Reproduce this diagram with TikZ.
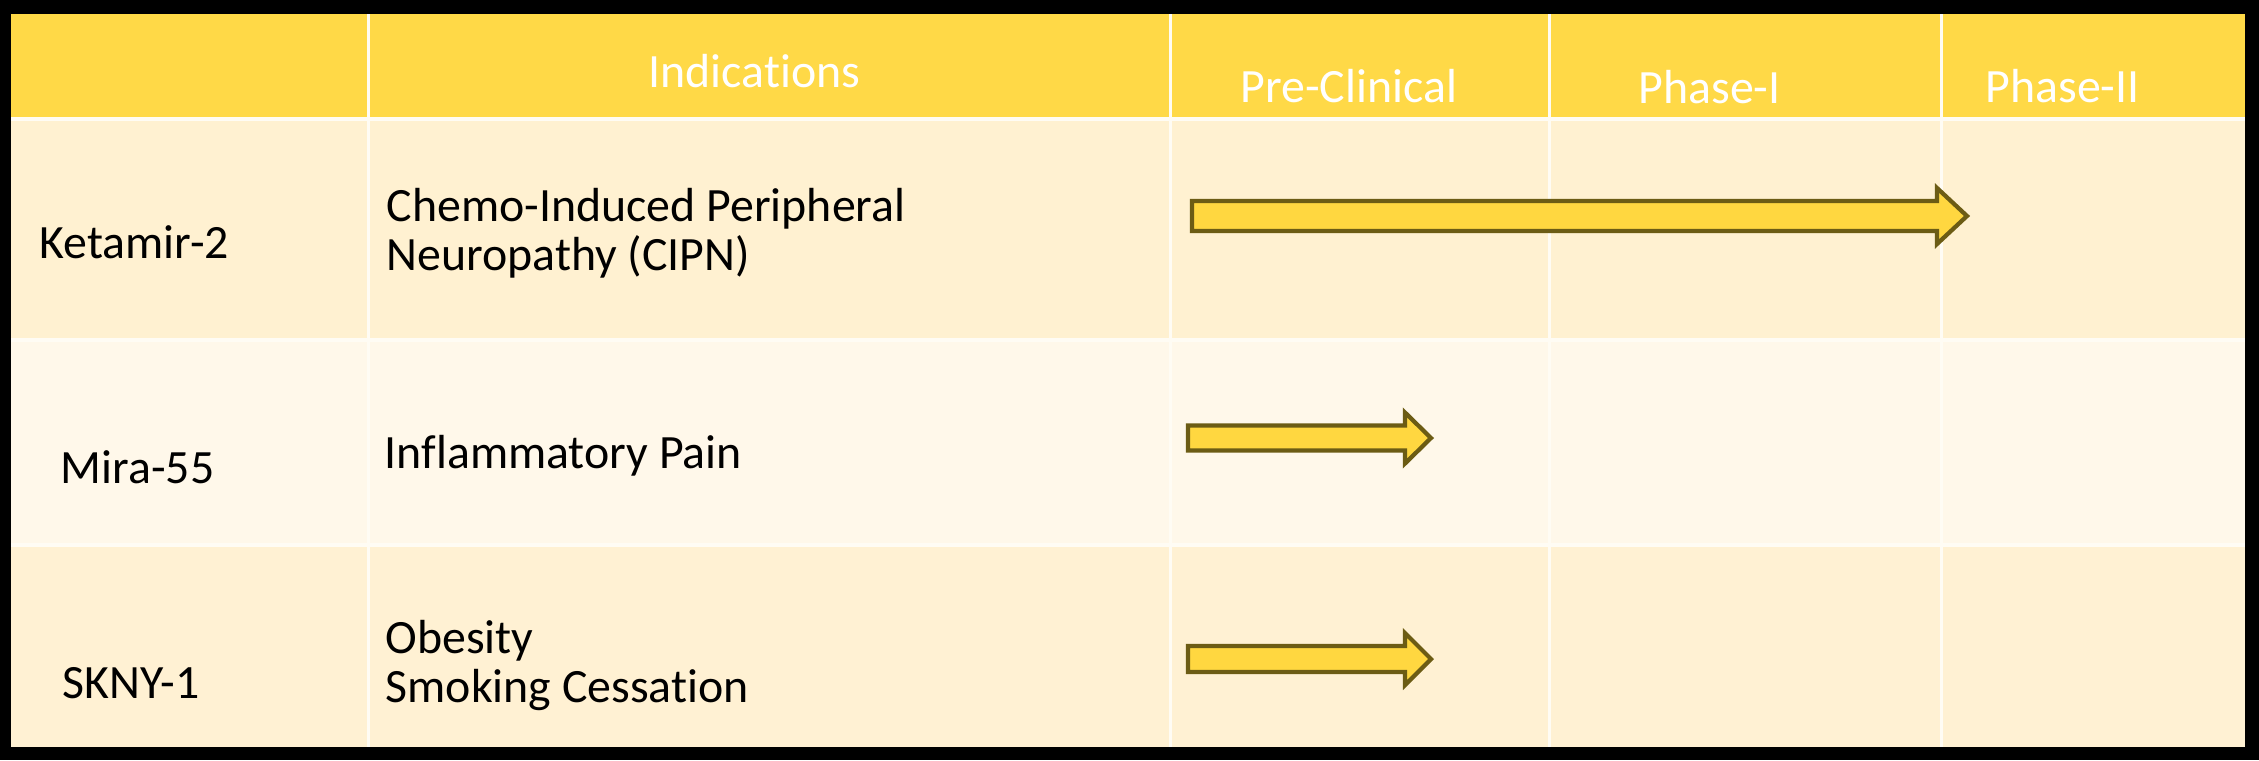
\documentclass[tikz,border=0pt]{standalone}
\usepackage{fontspec}
\setmainfont{Carlito}[Ligatures=NoCommon]
\definecolor{hdrfill}{RGB}{255,217,71}
\definecolor{rowa}{RGB}{255,241,209}
\definecolor{rowb}{RGB}{255,248,234}
\definecolor{rowc}{RGB}{255,241,211}
\definecolor{gridline}{RGB}{255,252,244}
\definecolor{arrowfill}{RGB}{255,215,64}
\definecolor{arrowline}{RGB}{108,92,20}
\begin{document}
\begin{tikzpicture}[x=0.01cm,y=-0.01cm,
  txt/.style={anchor=base west, inner sep=0pt, font=\fontsize{13.6}{13.95}\selectfont},
  hdrtxt/.style={txt, text=white},
  bodytxt/.style={txt, text=black},
  phasearrow/.style={fill=arrowfill, draw=arrowline, line width=1.2pt, line join=miter}]
% background and bounding box
\fill[black] (0,0) rectangle (2259,760);
\useasboundingbox (0,0) rectangle (2259,760);
\fill[gridline] (11,14) rectangle (2245,747);
% table cells
\foreach \xa/\xb in {11/367,370/1169,1172/1548,1551/1940,1943/2245}{
  \fill[hdrfill] (\xa,14) rectangle (\xb,117);
  \fill[rowa] (\xa,121) rectangle (\xb,338);
  \fill[rowb] (\xa,342) rectangle (\xb,543);
  \fill[rowc] (\xa,547) rectangle (\xb,747);
}
% header texts
\node[hdrtxt] (hInd) at (648,87) {Indications};
\node[hdrtxt] (hPre) at (1240,102) {Pre-Clinical};
\node[hdrtxt] (hP1) at (1638,103) {Phase-I};
\node[hdrtxt] (hP2) at (1985,102) {Phase-II};
% body texts
\node[bodytxt] (ket) at (39,258) {Ketamir-2};
\node[bodytxt] (cipn) at (386,221) {\begin{tabular}[t]{@{}l@{}}Chemo-Induced Peripheral\\Neuropathy (CIPN)\end{tabular}};
\node[bodytxt] (mira) at (60,483) {Mira-55};
\node[bodytxt] (infl) at (384,468) {Inflammatory Pain};
\node[bodytxt] (skny) at (62,698) {SKNY-1};
\node[bodytxt] (obes) at (385,653) {\begin{tabular}[t]{@{}l@{}}Obesity\\Smoking Cessation\end{tabular}};
% progress arrows
\draw[phasearrow] (1192,201) -- (1937,201) -- (1937,188) -- (1967,216) -- (1937,244) -- (1937,231) -- (1192,231) -- cycle;
\draw[phasearrow] (1188,425.5) -- (1405,425.5) -- (1405,412.5) -- (1431,438) -- (1405,463.5) -- (1405,450.5) -- (1188,450.5) -- cycle;
\draw[phasearrow] (1188,646) -- (1405,646) -- (1405,633) -- (1431,659) -- (1405,685) -- (1405,672) -- (1188,672) -- cycle;
\end{tikzpicture}
\end{document}
